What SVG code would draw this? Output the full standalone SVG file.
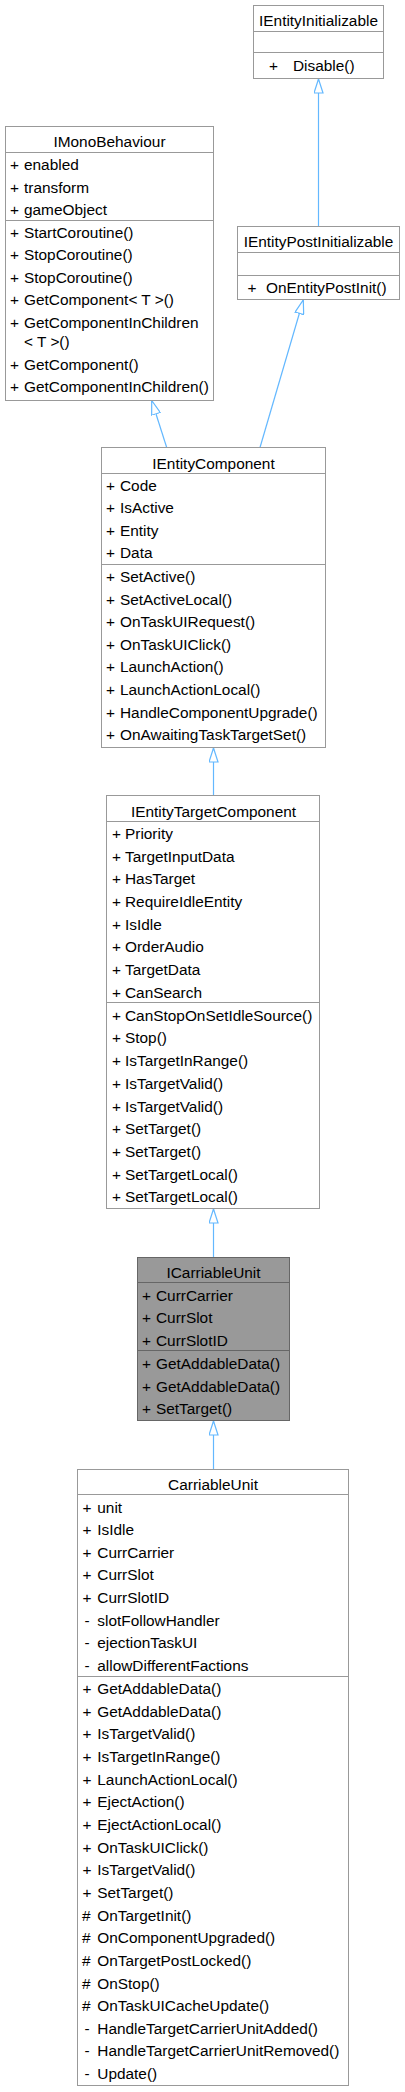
<svg xmlns="http://www.w3.org/2000/svg" width="405" height="2092" viewBox="0 0 405 2092">
<style>
text{font-family:"Liberation Sans",Arial,sans-serif;font-size:15.4px;fill:#000}
.t{text-anchor:middle}
.box{fill:#fff;stroke:#999;stroke-width:1}
.sep{stroke:#999;stroke-width:1}
.hbox{fill:#999;stroke:#666;stroke-width:1}
.hsep{stroke:#666;stroke-width:1}
.edge{fill:none;stroke:#63b8ff;stroke-width:1.2;marker-end:url(#tri)}
</style>
<defs>
<marker id="tri" viewBox="0 0 15 10" refX="14.5" refY="5" markerWidth="15" markerHeight="10" markerUnits="userSpaceOnUse" orient="auto">
<path d="M0.5,0.5 L14.5,5 L0.5,9.5 Z" fill="#fff" stroke="#63b8ff" stroke-width="1.2"/>
</marker>
</defs>
<rect width="405" height="2092" fill="#fff"/>
<g id="connectors">
<path class="edge" d="M318.5,226.5 L318.5,79"/>
<path class="edge" d="M166.7,447.5 L151.7,400.5"/>
<path class="edge" d="M260,447.5 L303.3,300"/>
<path class="edge" d="M213.5,795.5 L213.5,748"/>
<path class="edge" d="M213.5,1257.5 L213.5,1209"/>
<path class="edge" d="M213.5,1469.5 L213.5,1421"/>
</g>
<g id="IEntityInitializable">
<rect class="box" x="253.5" y="5.5" width="130" height="73"/>
<line class="sep" x1="253.5" y1="31.5" x2="383.5" y2="31.5"/>
<line class="sep" x1="253.5" y1="52.5" x2="383.5" y2="52.5"/>
<text class="t" x="318.5" y="25.7">IEntityInitializable</text>
<text y="70.7"><tspan x="269">+</tspan><tspan x="293">Disable()</tspan></text>
</g>
<g id="IMonoBehaviour">
<rect class="box" x="5.5" y="126.5" width="208" height="274"/>
<line class="sep" x1="5.5" y1="152.5" x2="213.5" y2="152.5"/>
<line class="sep" x1="5.5" y1="220.5" x2="213.5" y2="220.5"/>
<text class="t" x="109.5" y="146.7">IMonoBehaviour</text>
<text y="170"><tspan x="10">+</tspan><tspan x="24">enabled</tspan></text>
<text y="192.5"><tspan x="10">+</tspan><tspan x="24">transform</tspan></text>
<text y="215"><tspan x="10">+</tspan><tspan x="24">gameObject</tspan></text>
<text y="237.5"><tspan x="10">+</tspan><tspan x="24">StartCoroutine()</tspan></text>
<text y="260"><tspan x="10">+</tspan><tspan x="24">StopCoroutine()</tspan></text>
<text y="282.5"><tspan x="10">+</tspan><tspan x="24">StopCoroutine()</tspan></text>
<text y="305"><tspan x="10">+</tspan><tspan x="24">GetComponent&lt; T &gt;()</tspan></text>
<text y="327.5"><tspan x="10">+</tspan><tspan x="24">GetComponentInChildren</tspan></text>
<text x="24" y="346.5">&lt; T &gt;()</text>
<text y="369.5"><tspan x="10">+</tspan><tspan x="24">GetComponent()</tspan></text>
<text y="392"><tspan x="10">+</tspan><tspan x="24">GetComponentInChildren()</tspan></text>
</g>
<g id="IEntityPostInitializable">
<rect class="box" x="237.5" y="226.5" width="162" height="73"/>
<line class="sep" x1="237.5" y1="252.5" x2="399.5" y2="252.5"/>
<line class="sep" x1="237.5" y1="275.5" x2="399.5" y2="275.5"/>
<text class="t" x="318.5" y="246.7">IEntityPostInitializable</text>
<text y="292.7"><tspan x="247.5">+</tspan><tspan x="266">OnEntityPostInit()</tspan></text>
</g>
<g id="IEntityComponent">
<rect class="box" x="101.5" y="447.5" width="224" height="300"/>
<line class="sep" x1="101.5" y1="473.5" x2="325.5" y2="473.5"/>
<line class="sep" x1="101.5" y1="564.5" x2="325.5" y2="564.5"/>
<text class="t" x="213.5" y="468.5">IEntityComponent</text>
<text y="490.5"><tspan x="106">+</tspan><tspan x="120">Code</tspan></text>
<text y="513"><tspan x="106">+</tspan><tspan x="120">IsActive</tspan></text>
<text y="535.5"><tspan x="106">+</tspan><tspan x="120">Entity</tspan></text>
<text y="558"><tspan x="106">+</tspan><tspan x="120">Data</tspan></text>
<text y="582"><tspan x="106">+</tspan><tspan x="120">SetActive()</tspan></text>
<text y="604.6"><tspan x="106">+</tspan><tspan x="120">SetActiveLocal()</tspan></text>
<text y="627.2"><tspan x="106">+</tspan><tspan x="120">OnTaskUIRequest()</tspan></text>
<text y="649.8"><tspan x="106">+</tspan><tspan x="120">OnTaskUIClick()</tspan></text>
<text y="672.4"><tspan x="106">+</tspan><tspan x="120">LaunchAction()</tspan></text>
<text y="695"><tspan x="106">+</tspan><tspan x="120">LaunchActionLocal()</tspan></text>
<text y="717.6"><tspan x="106">+</tspan><tspan x="120">HandleComponentUpgrade()</tspan></text>
<text y="740.2"><tspan x="106">+</tspan><tspan x="120">OnAwaitingTaskTargetSet()</tspan></text>
</g>
<g id="IEntityTargetComponent">
<rect class="box" x="106.5" y="795.5" width="213" height="413"/>
<line class="sep" x1="106.5" y1="821.5" x2="319.5" y2="821.5"/>
<line class="sep" x1="106.5" y1="1002.5" x2="319.5" y2="1002.5"/>
<text class="t" x="213.5" y="816.7">IEntityTargetComponent</text>
<text y="839"><tspan x="112">+</tspan><tspan x="125">Priority</tspan></text>
<text y="861.7"><tspan x="112">+</tspan><tspan x="125">TargetInputData</tspan></text>
<text y="884.3"><tspan x="112">+</tspan><tspan x="125">HasTarget</tspan></text>
<text y="907"><tspan x="112">+</tspan><tspan x="125">RequireIdleEntity</tspan></text>
<text y="929.7"><tspan x="112">+</tspan><tspan x="125">IsIdle</tspan></text>
<text y="952.3"><tspan x="112">+</tspan><tspan x="125">OrderAudio</tspan></text>
<text y="975"><tspan x="112">+</tspan><tspan x="125">TargetData</tspan></text>
<text y="997.7"><tspan x="112">+</tspan><tspan x="125">CanSearch</tspan></text>
<text y="1020.7"><tspan x="112">+</tspan><tspan x="125">CanStopOnSetIdleSource()</tspan></text>
<text y="1043.4"><tspan x="112">+</tspan><tspan x="125">Stop()</tspan></text>
<text y="1066.1"><tspan x="112">+</tspan><tspan x="125">IsTargetInRange()</tspan></text>
<text y="1088.8"><tspan x="112">+</tspan><tspan x="125">IsTargetValid()</tspan></text>
<text y="1111.5"><tspan x="112">+</tspan><tspan x="125">IsTargetValid()</tspan></text>
<text y="1134.2"><tspan x="112">+</tspan><tspan x="125">SetTarget()</tspan></text>
<text y="1156.9"><tspan x="112">+</tspan><tspan x="125">SetTarget()</tspan></text>
<text y="1179.6"><tspan x="112">+</tspan><tspan x="125">SetTargetLocal()</tspan></text>
<text y="1202.3"><tspan x="112">+</tspan><tspan x="125">SetTargetLocal()</tspan></text>
</g>
<g id="ICarriableUnit">
<rect class="hbox" x="137.5" y="1257.5" width="152" height="163"/>
<line class="hsep" x1="137.5" y1="1282.5" x2="289.5" y2="1282.5"/>
<line class="hsep" x1="137.5" y1="1350.5" x2="289.5" y2="1350.5"/>
<text class="t" x="213.5" y="1277.7">ICarriableUnit</text>
<text y="1300.7"><tspan x="142">+</tspan><tspan x="156">CurrCarrier</tspan></text>
<text y="1323.3"><tspan x="142">+</tspan><tspan x="156">CurrSlot</tspan></text>
<text y="1345.7"><tspan x="142">+</tspan><tspan x="156">CurrSlotID</tspan></text>
<text y="1369"><tspan x="142">+</tspan><tspan x="156">GetAddableData()</tspan></text>
<text y="1391.7"><tspan x="142">+</tspan><tspan x="156">GetAddableData()</tspan></text>
<text y="1414.3"><tspan x="142">+</tspan><tspan x="156">SetTarget()</tspan></text>
</g>
<g id="CarriableUnit">
<rect class="box" x="77.5" y="1469.5" width="271" height="616"/>
<line class="sep" x1="77.5" y1="1494.5" x2="348.5" y2="1494.5"/>
<line class="sep" x1="77.5" y1="1676.5" x2="348.5" y2="1676.5"/>
<text class="t" x="213" y="1490">CarriableUnit</text>
<text y="1512.7"><tspan x="82.5">+</tspan><tspan x="97.3">unit</tspan></text>
<text y="1535.3"><tspan x="82.5">+</tspan><tspan x="97.3">IsIdle</tspan></text>
<text y="1557.8"><tspan x="82.5">+</tspan><tspan x="97.3">CurrCarrier</tspan></text>
<text y="1580.4"><tspan x="82.5">+</tspan><tspan x="97.3">CurrSlot</tspan></text>
<text y="1603"><tspan x="82.5">+</tspan><tspan x="97.3">CurrSlotID</tspan></text>
<text y="1625.6"><tspan x="84.5">-</tspan><tspan x="97.3">slotFollowHandler</tspan></text>
<text y="1648.1"><tspan x="84.5">-</tspan><tspan x="97.3">ejectionTaskUI</tspan></text>
<text y="1670.7"><tspan x="84.5">-</tspan><tspan x="97.3">allowDifferentFactions</tspan></text>
<text y="1694"><tspan x="82.5">+</tspan><tspan x="97.3">GetAddableData()</tspan></text>
<text y="1716.6"><tspan x="82.5">+</tspan><tspan x="97.3">GetAddableData()</tspan></text>
<text y="1739.3"><tspan x="82.5">+</tspan><tspan x="97.3">IsTargetValid()</tspan></text>
<text y="1762"><tspan x="82.5">+</tspan><tspan x="97.3">IsTargetInRange()</tspan></text>
<text y="1784.6"><tspan x="82.5">+</tspan><tspan x="97.3">LaunchActionLocal()</tspan></text>
<text y="1807.3"><tspan x="82.5">+</tspan><tspan x="97.3">EjectAction()</tspan></text>
<text y="1829.9"><tspan x="82.5">+</tspan><tspan x="97.3">EjectActionLocal()</tspan></text>
<text y="1852.6"><tspan x="82.5">+</tspan><tspan x="97.3">OnTaskUIClick()</tspan></text>
<text y="1875.2"><tspan x="82.5">+</tspan><tspan x="97.3">IsTargetValid()</tspan></text>
<text y="1897.9"><tspan x="82.5">+</tspan><tspan x="97.3">SetTarget()</tspan></text>
<text y="1920.5"><tspan x="82">#</tspan><tspan x="97.3">OnTargetInit()</tspan></text>
<text y="1943.2"><tspan x="82">#</tspan><tspan x="97.3">OnComponentUpgraded()</tspan></text>
<text y="1965.8"><tspan x="82">#</tspan><tspan x="97.3">OnTargetPostLocked()</tspan></text>
<text y="1988.5"><tspan x="82">#</tspan><tspan x="97.3">OnStop()</tspan></text>
<text y="2011.1"><tspan x="82">#</tspan><tspan x="97.3">OnTaskUICacheUpdate()</tspan></text>
<text y="2033.8"><tspan x="84.5">-</tspan><tspan x="97.3">HandleTargetCarrierUnitAdded()</tspan></text>
<text y="2056.4"><tspan x="84.5">-</tspan><tspan x="97.3">HandleTargetCarrierUnitRemoved()</tspan></text>
<text y="2079"><tspan x="84.5">-</tspan><tspan x="97.3">Update()</tspan></text>
</g>
</svg>
